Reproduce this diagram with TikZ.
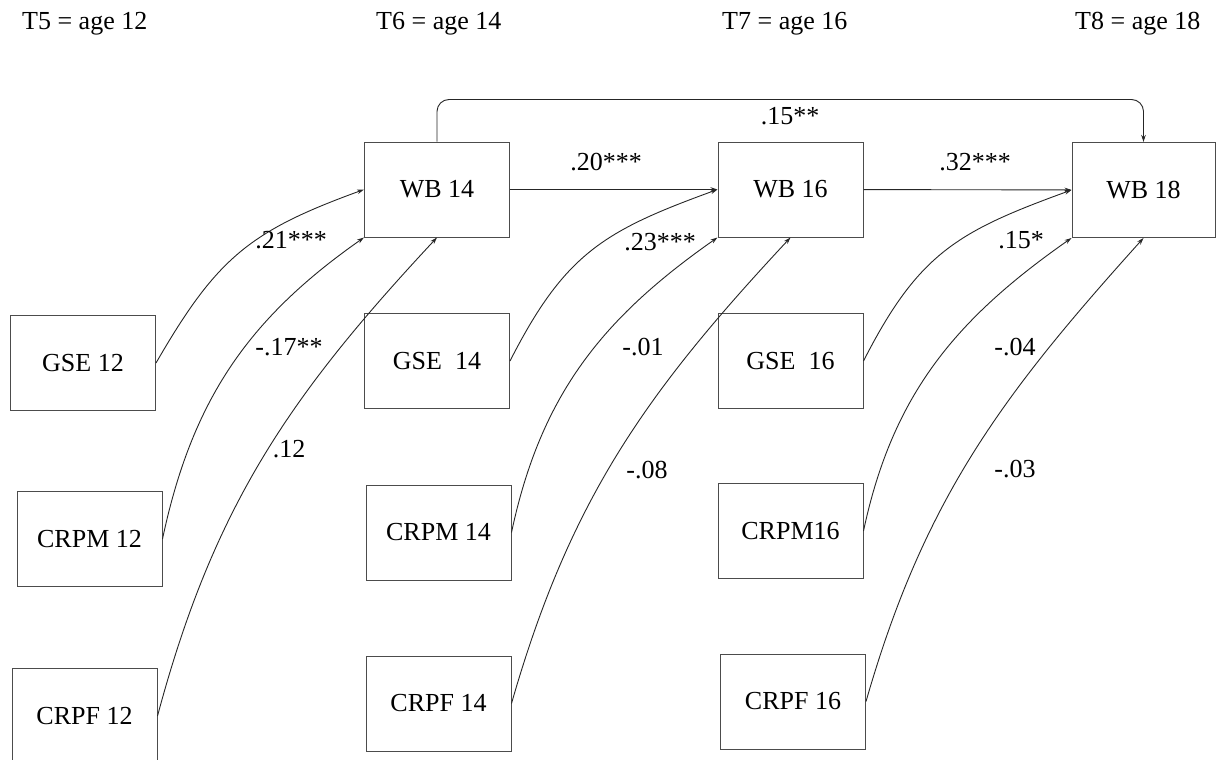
\documentclass[tikz,border=0pt]{standalone}
\usepackage{fontspec}
\setmainfont{Liberation Serif}
\usetikzlibrary{arrows.meta}

\tikzset{
  lbl/.style={font=\fontsize{26}{31}\selectfont, inner sep=0pt},
  box/.style={draw=black!70, line width=1pt, minimum width=145pt, minimum height=95pt,
              inner sep=0pt, font=\fontsize{26}{31}\selectfont},
  path/.style={draw=black!85, line width=0.9pt, -{Stealth[length=7pt,width=4.5pt]}},
}

\begin{document}
\begin{tikzpicture}[x=1pt,y=1pt]
\useasboundingbox (0,0) rectangle (1216,-760);
\clip (0,0) rectangle (1216,-760);

% wave headers
\node[lbl, anchor=base west] (h5) at (22,-30) {T5 = age 12};
\node[lbl, anchor=base west] (h6) at (376,-30) {T6 = age 14};
\node[lbl, anchor=base west] (h7) at (722,-30) {T7 = age 16};
\node[lbl, anchor=base west] (h8) at (1075,-30) {T8 = age 18};

% well-being
\node[box] (wb14) at (437,-189.5) {WB 14};
\node[box] (wb16) at (790.5,-189.5) {WB 16};
\node[box, minimum width=143pt] (wb18) at (1143.5,-190) {WB 18};

% predictors, age 12
\node[box] (gse12)  at (83,-363)    {GSE 12};
\node[box] (crpm12) at (89.5,-539)  {CRPM 12};
\node[box] (crpf12) at (84.5,-716)  {CRPF 12};

% predictors, age 14
\node[box] (gse14)  at (437,-361)   {GSE\ \ 14};
\node[box] (crpm14) at (438.5,-532.5) {CRPM 14};
\node[box] (crpf14) at (438.5,-703.5) {CRPF 14};

% predictors, age 16
\node[box] (gse16)  at (790.5,-361) {GSE\ \ 16};
\node[box] (crpm16) at (790.5,-531) {CRPM16};
\node[box] (crpf16) at (793,-701.5) {CRPF 16};

% stability paths
\draw[path] (wb14) -- (wb16);
\draw[path] (wb16) -- (wb18);
\draw[path, rounded corners=12pt] (wb14.north) -- ++(0,42) -| (wb18.north);

% cross-lagged paths
\draw[path] (gse12.east)  to[out=60,in=200,looseness=1.15] (wb14.west);
\draw[path] (crpm12.east) to[out=78,in=215] (wb14.south west);
\draw[path] (crpf12.east) to[out=75,in=227] (wb14.south);

\draw[path] (gse14.east)  to[out=63,in=200,looseness=1.15] (wb16.west);
\draw[path] (crpm14.east) to[out=78,in=215] (wb16.south west);
\draw[path] (crpf14.east) to[out=74,in=227] (wb16.south);

\draw[path] (gse16.east)  to[out=63,in=200,looseness=1.15] (wb18.west);
\draw[path] (crpm16.east) to[out=78,in=215] (wb18.south west);
\draw[path] (crpf16.east) to[out=74,in=228] (wb18.south);

% coefficients
\node[lbl] (c1)  at (606,-162) {.20***};
\node[lbl] (c2)  at (975,-162) {.32***};
\node[lbl] (c3)  at (790,-116) {.15**};

\node[lbl] (c4)  at (291,-240) {.21***};
\node[lbl] (c5)  at (289,-347) {-.17**};
\node[lbl] (c6)  at (289,-449) {.12};

\node[lbl] (c7)  at (660,-242) {.23***};
\node[lbl] (c8)  at (643,-347) {-.01};
\node[lbl] (c9)  at (647,-470) {-.08};

\node[lbl] (c10) at (1021,-240) {.15*};
\node[lbl] (c11) at (1015,-347) {-.04};
\node[lbl] (c12) at (1015,-469) {-.03};
\end{tikzpicture}
\end{document}
